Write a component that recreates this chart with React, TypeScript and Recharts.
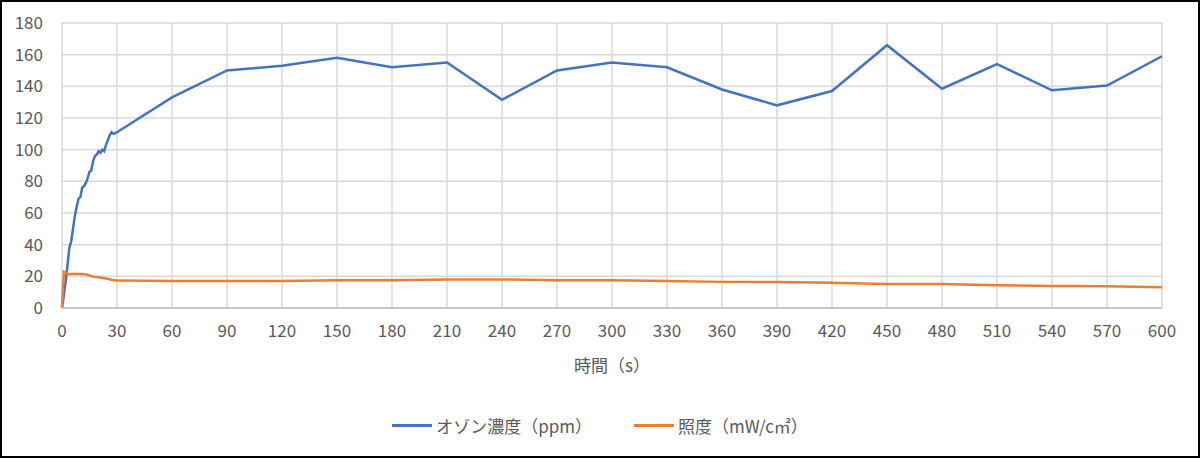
import { LineChart, Line, XAxis, YAxis, CartesianGrid, Legend } from 'recharts';

const FONT = '"Noto Sans CJK JP", "Noto Sans", sans-serif';

const seconds = [
  0, 1, 2, 3, 4, 5, 6, 7, 8, 9, 10, 11, 12, 13, 14, 15, 16, 17, 18, 19, 20,
  21, 22, 23, 24, 25, 26, 27, 28, 29, 30, 60, 90, 120, 150, 180, 210, 240, 270,
  300, 330, 360, 390, 420, 450, 480, 510, 540, 570, 600,
];

const ozone = [
  0, 8, 17, 27, 38, 42, 50, 58, 64, 69, 70, 76, 77, 79, 82, 86, 87, 93, 96, 97, 99,
  98, 100, 99, 103, 106, 109, 111, 110, 110.5, 111, 133, 150, 153, 158, 152, 155, 131.5, 150,
  155, 152, 138, 128, 137, 166, 138.5, 154, 137.5, 140.5, 159,
];

const illuminance = [
  0, 22.8, 22, 21.6, 21.5, 21.5, 21.5, 21.5, 21.5, 21.5, 21.5, 21.5, 21.4, 21.2, 21, 20.6,
  20.2, 19.8, 19.6, 19.6, 19.4, 19.2, 19, 18.8, 18.6, 18.4, 18.2, 17.9, 17.7, 17.5, 17.3,
  17, 17, 17, 17.5, 17.5, 18, 18, 17.6, 17.5, 17, 16.5, 16.4, 16, 15.2, 15.2, 14.4, 13.9,
  13.7, 13.1,
];

const xTicks = [0, 30, 60, 90, 120, 150, 180, 210, 240, 270, 300, 330, 360, 390, 420, 450, 480, 510, 540, 570, 600];
const yTicks = [0, 20, 40, 60, 80, 100, 120, 140, 160, 180];

const seriesNames = ['オゾン濃度（ppm）', '照度（mW/c㎡）'];
const colors = ['#4472C4', '#ED7D31'];

const data = seconds.map((t, i) => ({ t, ozone: ozone[i], lux: illuminance[i] }));

function LegendContent() {
  return (
    <div style={{ display: 'flex', justifyContent: 'center', alignItems: 'center', gap: 42, fontFamily: FONT, fontSize: 17, color: '#595959' }}>
      {seriesNames.map((name, i) => (
        <div key={name} style={{ display: 'flex', alignItems: 'center' }}>
          <span style={{ display: 'inline-block', width: 40, height: 3, background: colors[i], marginRight: 4 }} />
          <span>{name}</span>
        </div>
      ))}
    </div>
  );
}

export default function App() {
  return (
    <div style={{ position: 'absolute', left: 0, top: 0, width: 1200, height: 458, background: '#fff' }}>
      <LineChart width={1200} height={458} data={data} margin={{ top: 23, right: 38, bottom: 21, left: 0 }}>
        <CartesianGrid stroke="#D9D9D9" strokeWidth={1.5} />
        <XAxis
          dataKey="t"
          type="number"
          domain={[0, 600]}
          ticks={xTicks}
          interval={0}
          height={105}
          tickSize={0}
          tickMargin={17}
          stroke="#BFBFBF"
          strokeWidth={1.5}
          tick={{ fill: '#595959', fontSize: 17, fontFamily: FONT }}
          label={{ value: '時間（s）', position: 'insideTop', offset: 52, fill: '#595959', fontSize: 17, fontFamily: FONT }}
        />
        <YAxis
          type="number"
          domain={[0, 180]}
          ticks={yTicks}
          interval={0}
          width={62}
          tickSize={0}
          tickMargin={19}
          axisLine={false}
          tick={{ fill: '#595959', fontSize: 17, fontFamily: FONT }}
        />
        <Legend verticalAlign="bottom" height={24} content={<LegendContent />} wrapperStyle={{ left: 0, width: 1200 }} />
        <Line dataKey="ozone" name={seriesNames[0]} stroke={colors[0]} strokeWidth={2.5} dot={false} type="linear" isAnimationActive={false} />
        <Line dataKey="lux" name={seriesNames[1]} stroke={colors[1]} strokeWidth={2.5} dot={false} type="linear" isAnimationActive={false} />
      </LineChart>
      <div style={{ position: 'absolute', inset: 0, border: '2px solid #000', pointerEvents: 'none' }} />
    </div>
  );
}
